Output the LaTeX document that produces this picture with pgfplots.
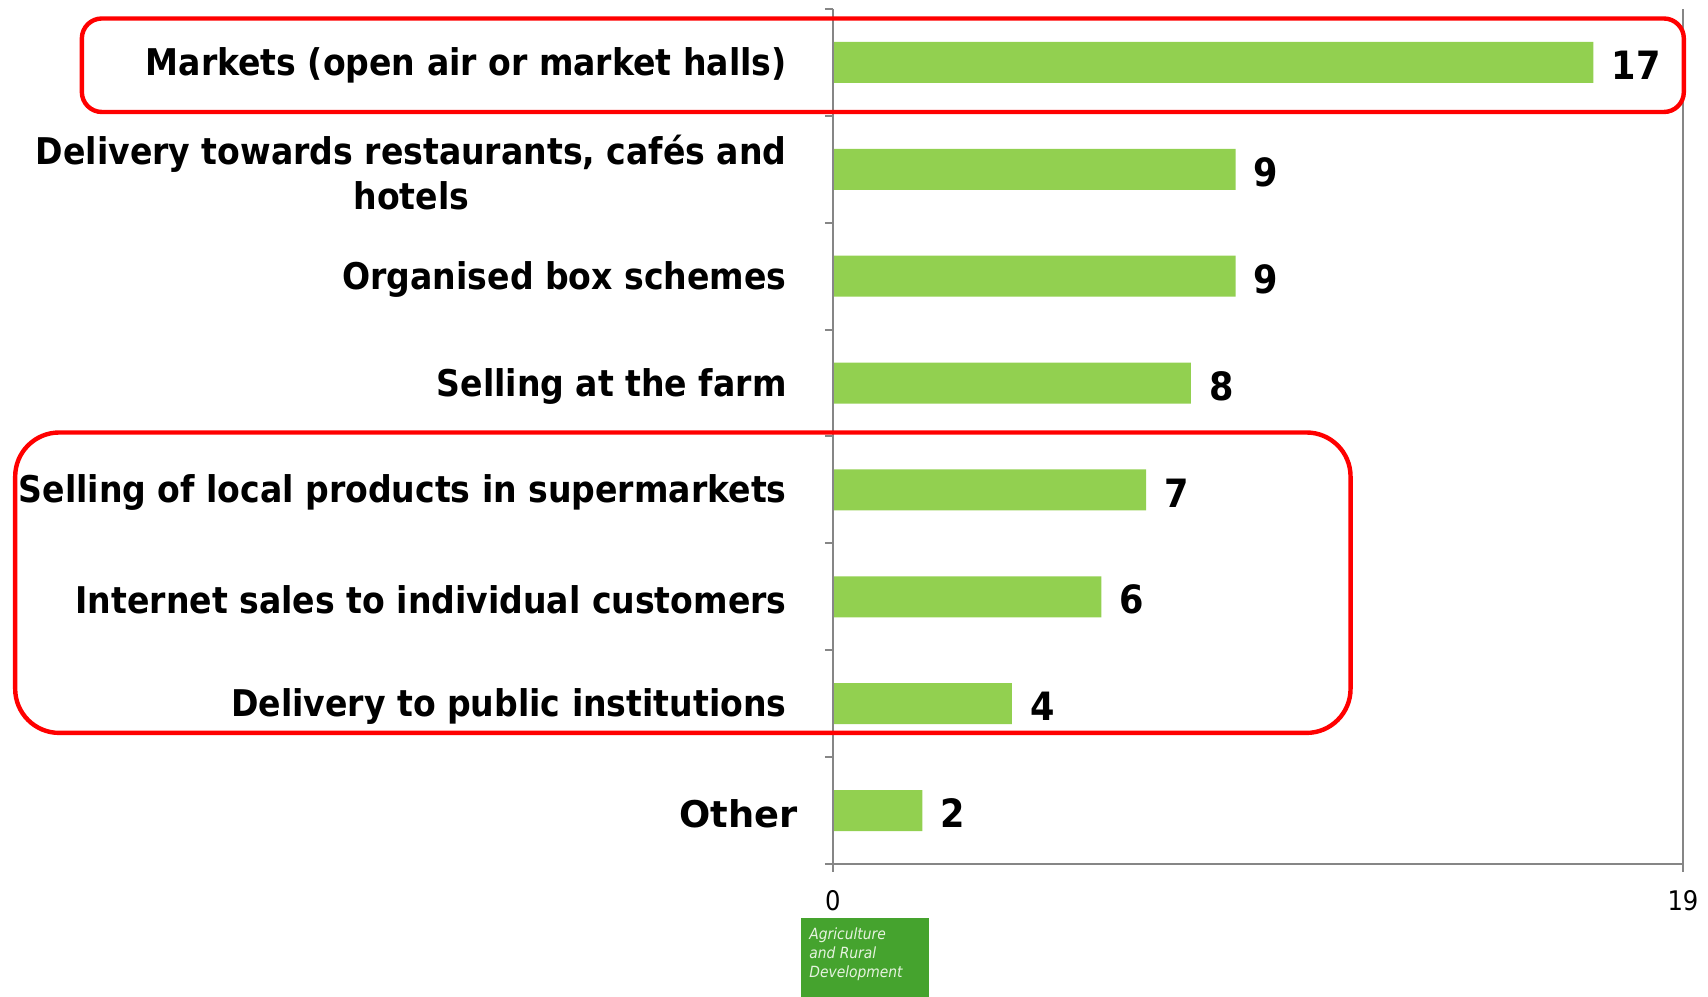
\documentclass[border=0pt]{standalone}
\usepackage{fontspec}
\setmainfont{DejaVu Sans Condensed}
\newfontfamily\widefont{DejaVu Sans}
\usepackage{pgfplots}
\pgfplotsset{compat=1.18}
\definecolor{bargreen}{HTML}{92D050}
\definecolor{axisgray}{HTML}{868686}
\definecolor{logogreen}{HTML}{45A32E}
\definecolor{boxred}{HTML}{FF0000}
\definecolor{logotext}{HTML}{E6F3DF}

\begin{document}
\begin{tikzpicture}
\begin{axis}[
    scale only axis,
    width=425pt,
    height=427.5pt,
    xbar,
    bar width=20.5pt,
    xmin=0, xmax=19,
    ymin=-0.5, ymax=7.5,
    clip=false,
    /pgf/number format/assume math mode=true,
    axis line style={draw=none},
    tick align=outside,
    major tick length=4pt,
    minor tick length=4pt,
    xtick={0,19},
    xticklabels={0,19},
    xtick pos=bottom,
    ytick pos=left,
    x tick style={axisgray, line width=1pt},
    major y tick style={draw=none},
    minor y tick style={axisgray, line width=1pt},
    ytick={0,...,7},
    minor ytick={-0.5,0.5,...,7.5},
    yticklabels={
        {\widefont Other\hspace*{-5.5pt}},
        Delivery to public institutions,
        Internet sales to individual customers,
        Selling of local products in supermarkets,
        Selling at the farm,
        Organised box schemes,
        {Delivery towards restaurants, cafés and\\hotels},
        Markets (open air or market halls)},
    yticklabel style={font=\fontsize{18.4}{22.3}\selectfont\bfseries, align=center, inner sep=0pt, xshift=-19pt, yshift=-1.5pt},
    xticklabel style={font=\fontsize{13.5}{16}\selectfont, inner sep=0pt, yshift=-9pt},
    nodes near coords,
    every node near coord/.append style={font=\fontsize{19.5}{21}\selectfont\bfseries, black, anchor=west, inner sep=0pt, xshift=9pt, yshift=-1.5pt},
]
\addplot[fill=bargreen, draw=none] coordinates {
    (2,0) (4,1) (6,2) (7,3) (8,4) (9,5) (9,6) (17,7)
};
% axis frame: left, bottom and right only
\draw[axisgray, line width=1pt] (rel axis cs:0,1) -- (rel axis cs:0,0) -- (rel axis cs:1,0) -- (rel axis cs:1,1);
% highlight boxes
\draw[boxred, line width=2.2pt, rounded corners=10pt] (axis cs:-16.79,7.411) rectangle (axis cs:19.02,6.536);
\draw[boxred, line width=2.2pt, rounded corners=22pt] (axis cs:-18.28,3.537) rectangle (axis cs:11.57,0.726);
% logo
\fill[logogreen] (axis cs:-0.715,-1.005) rectangle (axis cs:2.146,-1.744);
\node[anchor=north west, inner sep=0pt, align=left, text=logotext, font=\fontsize{7.7}{9.5}\selectfont\itshape] at (axis cs:-0.536,-1.09) {Agriculture\\and Rural\\Development};
% page size
\path (axis cs:-18.62,-1.744) rectangle (axis cs:19.56,7.584);
\end{axis}
\end{tikzpicture}
\end{document}
